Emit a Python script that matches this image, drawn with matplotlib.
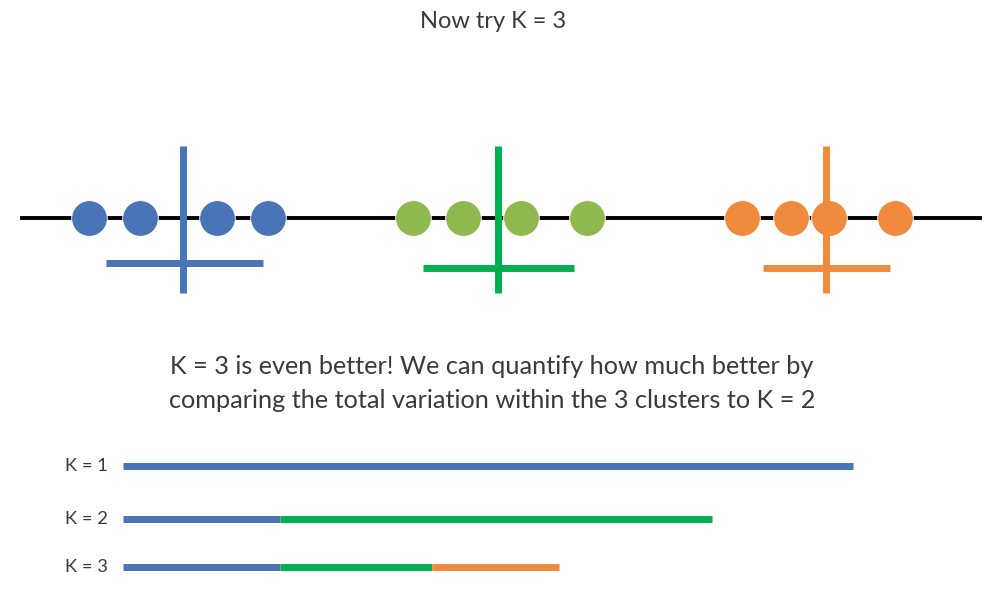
import matplotlib.pyplot as plt

plt.rcParams['font.family'] = ['Lato', 'DejaVu Sans']

# Points on the number line, one list per cluster (pixel-like units)
blue_points = [89, 140, 217, 268]
green_points = [413, 463, 521, 587]
orange_points = [742, 791, 829, 895]

# Cluster centre markers (vertical) and spread bars (horizontal)
center_x = [183, 498, 826]
spread_left = [106, 423, 763]
spread_right = [263, 574, 890]
spread_y = [263, 268, 268]

# Total variation bars: segment lengths per K
k_labels = ["K = 1", "K = 2", "K = 3"]
k_segments = [
    [730],
    [157, 432],
    [157, 152, 127],
]
k_rows = [466, 519, 567]
bar_start = 123

dot_colors = ["#4a74b8", "#8fb84e", "#f08a3c"]
line_colors = ["#4a74b8", "#00b050", "#f08a3c"]
text_color = "#3a3a3a"

fig = plt.figure(figsize=(9.95, 6.03), dpi=100)
ax = fig.add_axes([0, 0, 1, 1])
ax.set_xlim(0, 995)
ax.set_ylim(603, 0)
ax.axis("off")

# Title
ax.text(493, 22, "Now try K = 3", ha="center", va="center",
        fontsize=17, color=text_color)

# Number line
line_y = 218
ax.plot([22, 980], [line_y, line_y], color="black", linewidth=2.8, zorder=1)

# Dots
for pts, c in zip([blue_points, green_points, orange_points], dot_colors):
    ax.scatter(pts, [line_y] * len(pts), s=660, color=c,
               edgecolors="white", linewidths=0.6, zorder=2)

# Cluster crosses
for i in range(3):
    ax.plot([center_x[i], center_x[i]], [146, 293],
            color=line_colors[i], linewidth=5, solid_capstyle="butt", zorder=3)
    ax.plot([spread_left[i], spread_right[i]], [spread_y[i], spread_y[i]],
            color=line_colors[i], linewidth=5, solid_capstyle="butt", zorder=3)

# Explanation text
ax.text(492, 366, "K = 3 is even better! We can quantify how much better by",
        ha="center", va="center", fontsize=18.2, color=text_color)
ax.text(492, 400, "comparing the total variation within the 3 clusters to K = 2",
        ha="center", va="center", fontsize=18.2, color=text_color)

# Variation bars
for label, segs, y in zip(k_labels, k_segments, k_rows):
    ax.text(108, y, label, ha="right", va="center", fontsize=13.2,
            color=text_color)
    left = bar_start
    for j, length in enumerate(segs):
        ax.plot([left, left + length], [y, y], color=line_colors[j],
                linewidth=5, solid_capstyle="butt")
        left += length

fig.savefig("out.png", dpi=100, facecolor="white")
